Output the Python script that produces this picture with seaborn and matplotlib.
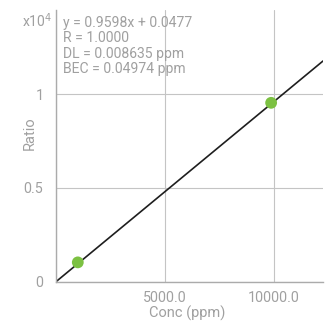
import matplotlib
matplotlib.use("Agg")
import matplotlib.pyplot as plt
import seaborn as sns
import numpy as np
from matplotlib.ticker import FuncFormatter

# calibration data (ratio in raw units, shown as x10^4)
conc = [1000, 9870]
ratio = [1030, 9530]
slope = 0.9598
intercept = 0.0477
fit_text = ["y = 0.9598x + 0.0477", "R = 1.0000", "DL = 0.008635 ppm", "BEC = 0.04974 ppm"]
x_ticks = [0, 5000, 10000]
x_tick_labels = ["", "5000.0", "10000.0"]
y_ticks = [0, 5000, 10000]

sns.set_style("white")
plt.rcParams['font.family'] = ['Roboto', 'DejaVu Sans']

grey = "#ABABAB"
text_grey = "#A0A0A0"

W, H = 334, 325
fig = plt.figure(figsize=(W / 100, H / 100), dpi=100)
ax_top = 10
ax = fig.add_axes([56 / W, 1 - 281.7 / H, 267 / W, (281.7 - ax_top) / H])

x_max = 12250
line_x = np.array([0, x_max])
sns.lineplot(x=line_x, y=slope * line_x + intercept, color="#1e1e1e", linewidth=1.2, ax=ax)
sns.scatterplot(x=conc, y=ratio, color="#7cc142", s=72, edgecolor="none", zorder=5, ax=ax)

ax.set_xlim(0, x_max)
ax.set_ylim(0, (281.7 - ax_top) / 187.7 * 1e4)
ax.set_xticks(x_ticks)
ax.set_xticklabels(x_tick_labels)
ax.set_yticks(y_ticks)
ax.yaxis.set_major_formatter(FuncFormatter(lambda v, p: "%g" % (v / 1e4)))
ax.grid(True, color="#C4C4C4", linewidth=0.8)
ax.set_axisbelow(True)

for s in ["top", "right"]:
    ax.spines[s].set_visible(False)
for s in ["left", "bottom"]:
    ax.spines[s].set_color(grey)
    ax.spines[s].set_linewidth(1.0)

ax.tick_params(axis="both", direction="out", width=1.0, color=grey,
               labelcolor=text_grey, labelsize=10.3)
ax.tick_params(axis="y", length=4.7, pad=4.3)
ax.tick_params(axis="x", length=4.5, pad=2)

ax.set_xlabel("Conc (ppm)", color=text_grey, fontsize=10.5)
ax.set_ylabel("Ratio", color=text_grey, fontsize=10.5)
ax.xaxis.set_label_coords(0.49, -(306 - 281.7) / (281.7 - ax_top))
ax.yaxis.set_label_coords(-(56 - 37) / 267, (281.7 - 133) / (281.7 - ax_top))

fs = 10.1
fig.text(52 / W, 1 - 26.7 / H, "x10$^4$", color=text_grey, fontsize=fs, ha="right", va="baseline")
for i, t in enumerate(fit_text):
    fig.text(63 / W, 1 - (26.7 + 15.5 * i) / H, t, color=text_grey, fontsize=fs,
             ha="left", va="baseline")

fig.savefig("out.png", dpi=100)
